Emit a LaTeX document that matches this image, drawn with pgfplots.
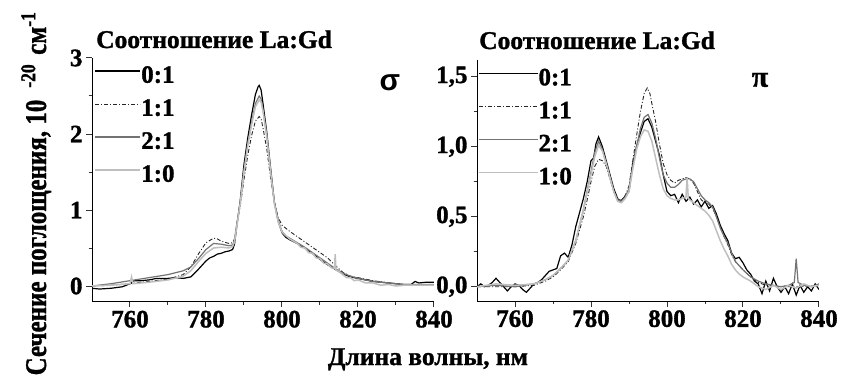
\documentclass[border=0pt]{standalone}
\usepackage{fontspec}
\setmainfont{Liberation Serif}[BoldFeatures={FakeBold=1.2}]
\newfontfamily\symfont{Liberation Sans}
\usepackage{pgfplots}
\pgfplotsset{compat=1.18}

\pgfplotsset{
  spec/.style={
    scale only axis, anchor=south west,
    axis x line*=bottom, axis y line*=left,
    tick align=outside,
    major tick length=6pt, minor tick length=3.5pt,
    minor x tick num=1, minor y tick num=1,
    xmin=750, xmax=840, xtick={760,780,800,820,840},
    xticklabels={\textbf{760},\textbf{780},\textbf{800},\textbf{820},\textbf{840}},
    every axis line/.style={line width=1.1pt, black!80},
    every tick/.style={line width=1pt, black!80},
    tick label style={font=\bfseries\fontsize{25}{25}\selectfont},
    legend style={draw=none, fill=none, inner sep=0pt, outer sep=0pt,
      font=\bfseries\fontsize{25}{25}\selectfont,
      nodes={text height=17pt, text depth=0pt, inner sep=0pt},
      row sep=16pt,
      /tikz/every even column/.append style={column sep=6pt}},
    legend cell align=left,
  },
  s01/.style={black, line width=1.2pt},
  s11/.style={black!85, line width=0.9pt, dash pattern=on 4pt off 2pt on 1pt off 2pt},
  s21/.style={black!55, line width=1.2pt},
  s10/.style={black!25, line width=1.5pt},
}

\begin{document}
\begin{tikzpicture}
\useasboundingbox (0,0) rectangle (841pt,378pt);

% ---------- sigma panel ----------
\begin{axis}[spec, at={(92pt,76.8pt)}, width=342pt, height=243.2pt,
  ymin=-0.2, ymax=3, ytick={0,1,2,3},
  yticklabels={\textbf{0},\textbf{1},\textbf{2},\textbf{3}},
  legend style={at={(0.008,0.968)}, anchor=north west},
  legend image code/.code={\draw[#1] (0pt,0.32em) -- (45pt,0.32em);},
]
\addplot[s01] coordinates {
(750,-0.03) (752,-0.04) (755,-0.03) (758,-0.01) (760,0.03) (761,0.07) (763,0.07) (765,0.08)
(767,0.10) (770,0.10) (772,0.11) (774,0.10) (776,0.12) (778,0.22) (780,0.33) (781,0.37)
(782,0.39) (783,0.42) (784,0.43) (785,0.45) (786,0.46) (787,0.48) (787.5,0.55) (788,0.75)
(789,1.12) (790,1.60) (791,1.95) (792,2.25) (793,2.52) (793.7,2.62) (794,2.64) (794.5,2.58)
(795,2.40) (796,2.02) (797,1.55) (798,1.10) (799,0.85) (800,0.70) (801,0.64) (802,0.61)
(804,0.56) (806,0.50) (808,0.43) (810,0.35) (812,0.28) (814,0.22) (816,0.16) (818,0.12)
(820,0.10) (822,0.08) (824,0.06) (826,0.05) (828,0.04) (830,0.03) (832,0.02) (834,0.02)
(835,0.06) (836,0.04) (838,0.05) (840,0.05)
};
\addlegendentry{0:1}
\addplot[s11] coordinates {
(750,0.00) (755,0.01) (760,0.03) (765,0.06) (770,0.09) (774,0.15) (776,0.25) (778,0.42)
(780,0.57) (782,0.63) (783,0.62) (784,0.59) (786,0.56) (787,0.57) (787.5,0.62) (788,0.78)
(789,1.05) (790,1.40) (791,1.72) (792,1.98) (793,2.17) (794,2.23) (794.5,2.20) (795,2.08)
(796,1.80) (797,1.42) (798,1.10) (799,0.90) (800,0.80) (801,0.76) (802,0.72) (804,0.65)
(806,0.58) (808,0.51) (810,0.44) (812,0.37) (814,0.27) (816,0.18) (818,0.13) (820,0.11)
(824,0.07) (828,0.04) (832,0.02) (836,0.01) (840,0.01)
};
\addlegendentry{1:1}
\addplot[s21] coordinates {
(750,0.00) (755,0.03) (760,0.07) (765,0.11) (770,0.15) (774,0.20) (776,0.25) (778,0.36)
(780,0.48) (782,0.56) (784,0.55) (786,0.53) (787,0.54) (787.5,0.60) (788,0.78) (789,1.10)
(790,1.52) (791,1.88) (792,2.15) (793,2.40) (794,2.50) (794.5,2.46) (795,2.32) (796,1.98)
(797,1.52) (798,1.10) (799,0.86) (800,0.72) (801,0.66) (802,0.63) (804,0.57) (806,0.51)
(808,0.44) (810,0.37) (812,0.30) (814,0.23) (816,0.17) (818,0.13) (820,0.10) (824,0.06)
(828,0.04) (832,0.02) (836,0.02) (840,0.02)
};
\addlegendentry{2:1}
\addplot[s10] coordinates {
(750,0.00) (755,0.01) (760,0.03) (760.4,0.12) (760.8,0.03) (765,0.05) (770,0.08) (774,0.13)
(776,0.20) (778,0.32) (780,0.43) (782,0.50) (784,0.51) (786,0.50) (787,0.52) (787.5,0.58)
(788,0.75) (789,1.08) (790,1.50) (791,1.85) (792,2.12) (793,2.36) (794,2.45) (794.5,2.42)
(795,2.30) (796,1.96) (797,1.50) (798,1.08) (799,0.84) (800,0.71) (802,0.62) (804,0.56)
(805,0.51) (806,0.50) (807,0.44) (808,0.43) (809,0.37) (810,0.36) (811,0.30) (812,0.29)
(813,0.24) (813.8,0.23) (814,0.42) (814.2,0.21) (815,0.19) (816,0.15) (817,0.11) (818,0.11)
(819,0.07) (820,0.08) (822,0.04) (824,0.04) (826,0.01) (828,0.02) (830,0.00) (832,0.01)
(836,0.01) (840,0.01)
};
\addlegendentry{1:0}
\end{axis}

% ---------- pi panel ----------
\begin{axis}[spec, at={(477pt,77.3pt)}, width=342pt, height=240.8pt,
  ymin=-0.1, ymax=1.62, ytick={0,0.5,1,1.5},
  yticklabels={\textbf{0,0},\textbf{0,5},\textbf{1,0},\textbf{1,5}},
  legend style={at={(0.003,0.965)}, anchor=north west},
  legend image code/.code={\draw[#1] (0pt,0.32em) -- (59pt,0.32em);},
]
\addplot[s01] coordinates {
(750,0.00) (751,0.02) (752,0.00) (753,0.01) (754,0.03) (755,0.06) (756,0.03) (757,0.00)
(758,-0.03) (759,0.00) (760,0.02) (761,0.01) (762,-0.02) (763,-0.04) (764,-0.01) (765,0.02)
(766,0.03) (767,0.05) (768,0.08) (769,0.11) (770,0.12) (771,0.13) (772,0.22) (773,0.24)
(774,0.21) (775,0.30) (776,0.43) (777,0.53) (778,0.63) (779,0.75) (780,0.90) (780.7,0.92)
(781.3,1.02) (782,1.07) (783,1.00) (784,0.90) (785,0.80) (786,0.70) (787,0.63) (787.7,0.61)
(788.5,0.63) (789.3,0.66) (790,0.68) (791,0.88) (792,1.00) (793,1.10) (794,1.18) (795,1.20)
(796,1.14) (797,1.04) (798,0.94) (799,0.80) (800,0.68) (801,0.65) (802,0.66) (803,0.60)
(804,0.66) (805,0.61) (806,0.64) (807,0.59) (808,0.62) (809,0.57) (810,0.61) (811,0.56)
(812,0.58) (813,0.52) (814,0.44) (815,0.38) (816,0.33) (817,0.24) (818,0.20) (819,0.21)
(820,0.17) (821,0.12) (822,0.09) (823,0.04) (824,0.02) (825,-0.05) (826,0.04) (827,-0.03)
(828,0.06) (829,0.00) (830,-0.04) (831,0.00) (832,-0.05) (833,0.02) (834,-0.06) (835,0.01)
(836,-0.04) (837,0.00) (838,-0.03) (839,0.02) (840,-0.02)
};
\addlegendentry{0:1}
\addplot[s11] coordinates {
(750,0.00) (755,0.00) (760,0.00) (765,0.01) (768,0.04) (770,0.07) (772,0.12) (774,0.18)
(776,0.31) (778,0.50) (779,0.62) (780,0.75) (781,0.86) (782,0.91) (783,0.90) (784,0.86)
(785,0.77) (786,0.68) (787,0.62) (788,0.62) (789,0.65) (790,0.72) (791,0.90) (792,1.08)
(793,1.25) (794,1.38) (794.8,1.42) (795.5,1.38) (796,1.31) (797,1.18) (798,1.02) (799,0.88)
(800,0.80) (801,0.76) (802,0.74) (803,0.76) (804,0.77) (805,0.78) (806,0.77) (807,0.74)
(808,0.68) (809,0.62) (810,0.60) (811,0.59) (812,0.56) (813,0.50) (814,0.43) (815,0.36)
(816,0.30) (817,0.23) (818,0.18) (819,0.15) (820,0.12) (822,0.07) (824,0.03) (826,0.01)
(830,0.00) (835,0.00) (840,0.01)
};
\addlegendentry{1:1}
\addplot[s21] coordinates {
(750,0.00) (755,0.01) (760,0.00) (765,0.02) (768,0.05) (770,0.08) (772,0.13) (774,0.19)
(776,0.33) (778,0.55) (780,0.82) (781,0.96) (782,1.04) (783,0.98) (784,0.88) (785,0.78)
(786,0.68) (787,0.62) (788,0.61) (789,0.64) (790,0.70) (791,0.86) (792,1.00) (793,1.13)
(794,1.21) (795,1.23) (796,1.17) (797,1.06) (798,0.92) (799,0.80) (800,0.74) (801,0.71)
(802,0.71) (803,0.73) (804,0.76) (805,0.77) (806,0.77) (807,0.75) (808,0.70) (809,0.65)
(810,0.62) (811,0.60) (812,0.57) (813,0.50) (814,0.42) (815,0.36) (816,0.31) (817,0.24)
(818,0.18) (819,0.15) (820,0.12) (822,0.07) (824,0.04) (826,0.02) (828,0.01) (830,0.00)
(832,0.01) (833.5,0.03) (834,0.20) (834.5,0.03) (836,0.01) (838,0.00) (840,0.02)
};
\addlegendentry{2:1}
\addplot[s10] coordinates {
(750,0.00) (755,0.02) (760,0.01) (765,0.02) (768,0.05) (770,0.08) (772,0.13) (774,0.19)
(776,0.33) (778,0.55) (780,0.80) (781,0.93) (782,1.01) (783,0.97) (784,0.88) (785,0.78)
(786,0.68) (787,0.61) (788,0.60) (789,0.63) (790,0.68) (791,0.84) (792,0.98) (793,1.07)
(794,1.12) (795,1.11) (796,1.04) (797,0.92) (798,0.80) (799,0.70) (800,0.65) (801,0.63)
(802,0.62) (803,0.62) (804,0.63) (805,0.64) (805.3,0.78) (805.6,0.63) (806,0.62) (807,0.60)
(808,0.58) (809,0.56) (810,0.54) (811,0.51) (812,0.47) (813,0.40) (814,0.33) (815,0.27)
(816,0.22) (817,0.16) (818,0.12) (819,0.09) (820,0.07) (822,0.04) (824,0.00) (826,-0.02)
(828,0.01) (830,-0.02) (832,0.01) (834,-0.01) (836,0.02) (838,0.00) (840,0.01)
};
\addlegendentry{1:0}
\end{axis}

% ---------- texts ----------
\node[anchor=base west, inner sep=0pt, font=\bfseries\fontsize{25.5}{25.5}\selectfont] at (96pt,330pt) {Соотношение La:Gd};
\node[anchor=base west, inner sep=0pt, font=\bfseries\fontsize{25.5}{25.5}\selectfont] at (479pt,329pt) {Соотношение La:Gd};
\node[inner sep=0pt, font=\symfont\bfseries\fontsize{30}{30}\selectfont] at (390pt,295pt) {σ};
\node[inner sep=0pt, font=\bfseries\fontsize{30}{30}\selectfont] at (760pt,298pt) {π};
\node[anchor=base, inner sep=0pt, font=\bfseries\fontsize{25.5}{25.5}\selectfont] at (428pt,13pt) {Длина волны, нм};
\node[anchor=base, inner sep=0pt, rotate=90, font=\bfseries\fontsize{25}{25}\selectfont] at (46pt,184.5pt) {\scalebox{1}[1.2]{Сечение поглощения, 10\hspace{12pt}\textsuperscript{-20}\hspace{9pt}см\textsuperscript{-1}}};
\end{tikzpicture}
\end{document}
